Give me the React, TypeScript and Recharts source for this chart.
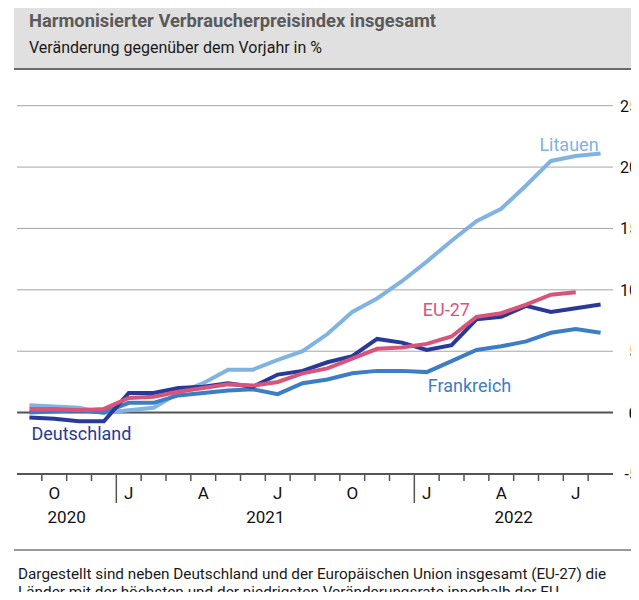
import { LineChart, Line, XAxis, YAxis, CartesianGrid, ReferenceLine, LabelList } from 'recharts'

// Sep 2020 .. Aug 2022
const months = [
  '2020-09', '2020-10', '2020-11', '2020-12',
  '2021-01', '2021-02', '2021-03', '2021-04', '2021-05', '2021-06',
  '2021-07', '2021-08', '2021-09', '2021-10', '2021-11', '2021-12',
  '2022-01', '2022-02', '2022-03', '2022-04', '2022-05', '2022-06', '2022-07', '2022-08',
]
const monthLabels = ['', 'O', '', '', 'J', '', '', 'A', '', '', 'J', '', '', 'O', '', '', 'J', '', '', 'A', '', '', 'J', '']
const years = [
  { label: '2020', from: 0, to: 3 },
  { label: '2021', from: 4, to: 15 },
  { label: '2022', from: 16, to: 23 },
]

const deutschland = [-0.4, -0.5, -0.7, -0.7, 1.6, 1.6, 2.0, 2.1, 2.4, 2.1, 3.1, 3.4, 4.1, 4.6, 6.0, 5.7, 5.1, 5.5, 7.6, 7.8, 8.7, 8.2, 8.5, 8.8]
const eu27 = [0.3, 0.3, 0.2, 0.3, 1.2, 1.3, 1.7, 2.0, 2.3, 2.2, 2.5, 3.2, 3.6, 4.4, 5.2, 5.3, 5.6, 6.2, 7.8, 8.1, 8.8, 9.6, 9.8, null]
const frankreich = [0.0, 0.1, 0.2, 0.0, 0.8, 0.8, 1.4, 1.6, 1.8, 1.9, 1.5, 2.4, 2.7, 3.2, 3.4, 3.4, 3.3, 4.2, 5.1, 5.4, 5.8, 6.5, 6.8, 6.5]
const litauen = [0.6, 0.5, 0.4, 0.0, 0.2, 0.4, 1.6, 2.4, 3.5, 3.5, 4.3, 5.0, 6.4, 8.2, 9.3, 10.7, 12.3, 14.0, 15.6, 16.6, 18.5, 20.5, 20.9, 21.1]

const yTicks = [-5, 0, 5, 10, 15, 20, 25]

const data = months.map((m, i) => ({
  m,
  de: deutschland[i],
  eu: eu27[i],
  fr: frankreich[i],
  lt: litauen[i],
}))

const PLOT_W = 596
const STEP = PLOT_W / months.length

const C_DE = '#28399a'
const C_EU = '#d9547b'
const C_FR = '#3c7dc6'
const C_LT = '#80b3e1'
const FONT = 'Roboto, "Noto Sans", sans-serif'

const MonthTick = (props: any) => {
  const { x, y, payload } = props
  const i = payload.index
  const yearStart = years.find((yr) => yr.from === i)
  return (
    <g>
      {i > 0 && (
        <line
          x1={x - STEP / 2}
          x2={x - STEP / 2}
          y1={y}
          y2={y + (yearStart ? 29 : 7)}
          stroke="#555"
          strokeWidth={1.5}
        />
      )}
      {monthLabels[i] && (
        <text x={x} y={y + 25} textAnchor="middle" fontSize={17} fill="#111" fontFamily={FONT}>
          {monthLabels[i]}
        </text>
      )}
      {yearStart && (
        <text
          x={x + ((yearStart.to - yearStart.from) / 2) * STEP}
          y={y + 49}
          textAnchor="middle"
          fontSize={17}
          fill="#111"
          fontFamily={FONT}
        >
          {yearStart.label}
        </text>
      )}
    </g>
  )
}

const ValueTick = (props: any) => {
  const { x, y, payload } = props
  return (
    <text
      x={x + 25}
      y={y + 6}
      textAnchor="end"
      fontSize={16}
      fill="#111"
      fontWeight={payload.value === 0 ? 'bold' : 'normal'}
      fontFamily={FONT}
    >
      {payload.value}
    </text>
  )
}

// series name written next to one chosen point
const seriesLabel = (name: string, color: string, at: number, dx: number, dy: number, anchor: string) =>
  (props: any) => {
    const { x, y, index } = props
    if (index !== at) return null
    return (
      <text x={x + dx} y={y + dy} fill={color} fontSize={18} textAnchor={anchor} fontFamily={FONT}>
        {name}
      </text>
    )
  }

export default function App() {
  return (
    <div
      style={{
        position: 'relative',
        width: 639,
        height: 600,
        margin: -8,
        overflow: 'hidden',
        background: '#fff',
        fontFamily: FONT,
      }}
    >
      <svg width={639} height={600} style={{ position: 'absolute', left: 0, top: 0 }}>
        <rect x={14} y={0} width={625} height={68} fill="#e0e0e0" />
        <line x1={14} x2={639} y1={69} y2={69} stroke="#6b6b6b" strokeWidth={2} />
        <text x={29} y={27} fontSize={19} fontWeight="bold" fill="#5a5a5a" textLength={407} lengthAdjust="spacingAndGlyphs">
          Harmonisierter Verbraucherpreisindex insgesamt
        </text>
        <text x={29} y={53} fontSize={17} fill="#1a1a1a" textLength={293} lengthAdjust="spacingAndGlyphs">
          Veränderung gegenüber dem Vorjahr in %
        </text>
        <line x1={14} x2={639} y1={550} y2={550} stroke="#777" strokeWidth={1.5} />
        <text x={18} y={579} fontSize={15} fill="#1a1a1a" textLength={588} lengthAdjust="spacingAndGlyphs">
          Dargestellt sind neben Deutschland und der Europäischen Union insgesamt (EU-27) die
        </text>
        <text x={18} y={597} fontSize={15} fill="#1a1a1a" textLength={545} lengthAdjust="spacingAndGlyphs">
          Länder mit der höchsten und der niedrigsten Veränderungsrate innerhalb der EU.
        </text>
      </svg>
      <div style={{ position: 'absolute', left: 0, top: 0 }}>
        <LineChart width={639} height={530} data={data} margin={{ top: 105.7, right: 0, bottom: 6, left: 17 }}>
          <CartesianGrid horizontal vertical={false} stroke="#a6a6a6" strokeWidth={1} />
          <XAxis
            dataKey="m"
            interval={0}
            height={50}
            tickLine={false}
            tickSize={0}
            tickMargin={0}
            axisLine={{ stroke: '#555', strokeWidth: 2 }}
            padding={{ left: STEP / 2, right: STEP / 2 }}
            tick={<MonthTick />}
          />
          <YAxis
            orientation="right"
            domain={[-5, 25]}
            ticks={yTicks}
            width={26}
            axisLine={false}
            tickLine={false}
            tickSize={0}
            tickMargin={0}
            interval={0}
            tick={<ValueTick />}
          />
          <ReferenceLine y={0} stroke="#555" strokeWidth={2} />
          <Line dataKey="lt" stroke={C_LT} strokeWidth={4} dot={false} isAnimationActive={false}>
            <LabelList dataKey="lt" content={seriesLabel('Litauen', C_LT, 23, -2, -3, 'end')} />
          </Line>
          <Line dataKey="fr" stroke={C_FR} strokeWidth={4} dot={false} isAnimationActive={false}>
            <LabelList dataKey="fr" content={seriesLabel('Frankreich', C_FR, 16, 1, 20, 'start')} />
          </Line>
          <Line dataKey="de" stroke={C_DE} strokeWidth={4} dot={false} isAnimationActive={false}>
            <LabelList dataKey="de" content={seriesLabel('Deutschland', C_DE, 0, 2, 22, 'start')} />
          </Line>
          <Line dataKey="eu" stroke={C_EU} strokeWidth={4} dot={false} isAnimationActive={false}>
            <LabelList dataKey="eu" content={seriesLabel('EU-27', C_EU, 16, -4, -28, 'start')} />
          </Line>
        </LineChart>
      </div>
    </div>
  )
}
